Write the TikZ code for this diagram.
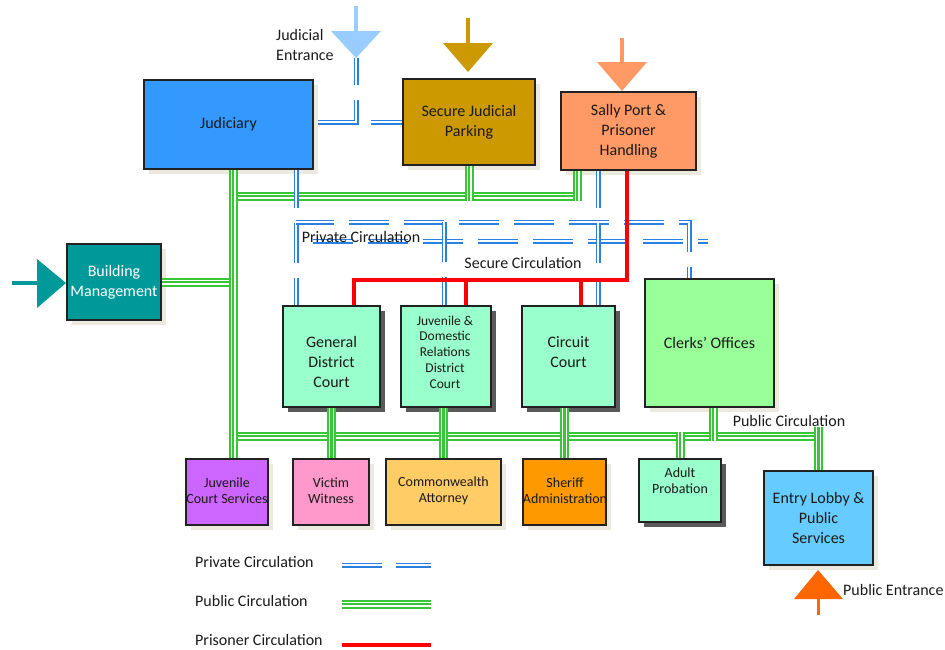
\documentclass[tikz,border=0pt]{standalone}
\usepackage{fontspec}
\setmainfont{Carlito}
\usetikzlibrary{shadows}

\definecolor{cJud}{HTML}{3399FF}
\definecolor{cPark}{HTML}{CC9900}
\definecolor{cSally}{HTML}{FF9966}
\definecolor{cBldg}{HTML}{009999}
\definecolor{cCourt}{HTML}{99FFCC}
\definecolor{cClerk}{HTML}{99FF99}
\definecolor{cJcs}{HTML}{CC66FF}
\definecolor{cVic}{HTML}{FF99CC}
\definecolor{cCom}{HTML}{FFCC66}
\definecolor{cShe}{HTML}{FF9900}
\definecolor{cLob}{HTML}{66CCFF}
\definecolor{cEnt}{HTML}{99CCFF}
\definecolor{cPubEnt}{HTML}{FF6600}
\definecolor{shadowbeige}{HTML}{ECE9DE}
\definecolor{shadowgray}{HTML}{5A5A5A}
\definecolor{boxline}{HTML}{222222}
\definecolor{textc}{HTML}{1A1A1A}
\definecolor{privblue}{HTML}{2A80E2}
\definecolor{pubgreen}{HTML}{36C636}
\definecolor{prisred}{HTML}{FF0000}

\begin{document}
\begin{tikzpicture}[x=1pt,y=-1pt,
  box/.style={draw=boxline, line width=1.3pt, inner sep=0pt},
  softshadow/.style={general shadow={fill=shadowbeige, shadow xshift=5pt, shadow yshift=-5pt}},
  darkshadow/.style={general shadow={fill=shadowgray, shadow xshift=5pt, shadow yshift=-5pt}},
  txt/.style={inner sep=0pt, align=center, text=textc, font=\fontsize{16}{20}\selectfont},
  small/.style={font=\fontsize{14}{16}\selectfont},
  tiny/.style={font=\fontsize{13.5}{15.7}\selectfont},
  lbl/.style={inner sep=0pt, text=textc, font=\fontsize{16}{20}\selectfont},
  privc/.style={draw=privblue, line width=5pt, #1, postaction={draw=white, line width=1.6pt, #1}},
  privc/.default={dash pattern=on 40pt off 15pt},
  pubc/.style={draw=pubgreen, line width=9pt, postaction={draw=white, line width=5pt}, postaction={draw=pubgreen, line width=2.2pt}},
  prisc/.style={draw=prisred, line width=4pt},
]
\useasboundingbox (0,0) rectangle (945,649);

% ---------- rooms ----------
\node[box, softshadow, fill=cJud,   minimum width=169, minimum height=89]  (jud)   at (228.5,124.5) {};
\node[box, softshadow, fill=cPark,  minimum width=132, minimum height=86]  (park)  at (469,122) {};
\node[box, softshadow, fill=cSally, minimum width=135, minimum height=78]  (sally) at (628.5,131) {};
\node[box, softshadow, fill=cBldg,  minimum width=94,  minimum height=76]  (bldg)  at (114,282) {};
\node[box, darkshadow, fill=cCourt, minimum width=97,  minimum height=101] (gdc)   at (331.5,356.5) {};
\node[box, darkshadow, fill=cCourt, minimum width=90,  minimum height=101] (jdr)   at (446,356.5) {};
\node[box, darkshadow, fill=cCourt, minimum width=93,  minimum height=101] (cir)   at (568.5,356.5) {};
\node[box, softshadow, fill=cClerk, minimum width=129, minimum height=128] (clk)   at (709.5,343) {};
\node[box, softshadow, fill=cJcs,   minimum width=82,  minimum height=66]  (jcs)   at (227,492) {};
\node[box, softshadow, fill=cVic,   minimum width=76,  minimum height=66]  (vic)   at (331,492) {};
\node[box, softshadow, fill=cCom,   minimum width=115, minimum height=66]  (com)   at (443.5,492) {};
\node[box, softshadow, fill=cShe,   minimum width=83,  minimum height=66]  (she)   at (564.5,492) {};
\node[box, darkshadow, fill=cCourt, minimum width=82,  minimum height=63]  (adp)   at (680,490.5) {};
\node[box, softshadow, fill=cLob,   minimum width=109, minimum height=94]  (lob)   at (818.5,518) {};

% ---------- entrances ----------
\coordinate (jeTip) at (356,58);
\draw[cEnt, line width=4pt] (356,6) -- (356,32);
\fill[cEnt] (331,31) -- (381,31) -- (jeTip) -- cycle;

\coordinate (paTip) at (468,72);
\draw[cPark, line width=4pt] (468,18) -- (468,44);
\fill[cPark] (443,43) -- (493,43) -- (paTip) -- cycle;

\coordinate (saTip) at (622,91);
\draw[cSally, line width=4pt] (622,38) -- (622,63);
\fill[cSally] (597,62) -- (647,62) -- (saTip) -- cycle;

\coordinate (bmTip) at (66,283);
\draw[cBldg, line width=4pt] (12,283) -- (38,283);
\fill[cBldg] (37,259) -- (37,308) -- (bmTip) -- cycle;

\coordinate (peTip) at (818,570);
\draw[cPubEnt, line width=3pt] (818,598) -- (818,615);
\fill[cPubEnt] (794,599) -- (843,599) -- (peTip) -- cycle;

% ---------- public circulation ----------
\coordinate (gT)  at (233,0);
\coordinate (uL)  at (228.5,196);
\coordinate (uR)  at (581.5,196);
\coordinate (uS)  at (577,200.5);
\coordinate (lL)  at (228.5,436);
\coordinate (lR)  at (823,436);
\coordinate (gK)  at (713,440.5);
\coordinate (gA)  at (680,431.5);
\coordinate (gE)  at (818.5,427);
\draw[pubc] (uL) -- (uR);
\draw[pubc] (bldg.east) -- ([xshift=4.5pt]bldg.east -| gT);
\draw[pubc] (lL) -- (lR);
\draw[pubc] (jud.south -| gT) -- (jcs.north -| gT);
\draw[pubc] (park.south) -- ([yshift=-4.5pt]park.south |- uL);
\draw[pubc] (sally.south -| uS) -- (uS);
\draw[pubc] (gdc.south) -- (gdc.south |- vic.north);
\draw[pubc] (jdr.south -| com.north) -- (com.north);
\draw[pubc] (cir.south -| she.north) -- (she.north);
\draw[pubc] (clk.south -| gK) -- (gK);
\draw[pubc] (gA) -- (adp.north);
\draw[pubc] (gE) -- (lob.north);

% ---------- private circulation ----------
\coordinate (pA) at (296,0);
\coordinate (pB) at (444,222);
\coordinate (pC) at (598,0);
\coordinate (pU1) at (296,222);
\coordinate (pU2) at (689,222);
\coordinate (pL1) at (313,241);
\coordinate (pL2) at (708,241);
\draw[privc={dash pattern=on 27pt off 15pt on 60pt off 30pt}]
  (jeTip) -- (jeTip |- park.west) -- (jud.east |- park.west);
\draw[privc={dash pattern=on 31pt off 30pt}] (park.west) -- (jeTip |- park.west);
\draw[privc={dash pattern=on 40pt off 15pt, dash phase=2pt}] (jud.south -| pA) -- (gdc.north -| pA);
\draw[privc={dash pattern=on 40pt off 15pt, dash phase=2pt}] (pU1) -- (pU2) -- (clk.north -| pU2);
\draw[privc] (pL1) -- (pL2);
\draw[privc] (pB) -- (jdr.north -| pB);
\draw[privc={dash pattern=on 40pt off 15pt, dash phase=3pt}] (sally.south -| pC) -- (cir.north -| pC);

% ---------- secure (prisoner) circulation ----------
\coordinate (sR) at (627,280);
\coordinate (sL) at (354,280);
\coordinate (sJ) at (466,280);
\coordinate (sC) at (581,280);
\draw[prisc] (sally.south -| sR) -- (sR) -- (sL) -- (gdc.north -| sL);
\draw[prisc] (sJ) -- (jdr.north -| sJ);
\draw[prisc] (sC) -- (cir.north -| sC);

% ---------- room names ----------
\node[txt] (judT)   at (jud)   {Judiciary};
\node[txt] (parkT)  at (park)  {Secure Judicial\\Parking};
\node[txt] (sallyT) at (sally) {Sally Port \&\\Prisoner\\Handling};
\node[txt, text=white] (bldgT) at (bldg) {Building\\Management};
\node[txt] (gdcT)   at (331.5,362) {General\\District\\Court};
\node[txt, tiny] (jdrT) at (445,352) {Juvenile \&\\Domestic\\Relations\\District\\Court};
\node[txt] (cirT)   at (568.5,352) {Circuit\\Court};
\node[txt] (clkT)   at (clk)   {Clerks’ Offices};
\node[txt, small] (jcsT) at (227,491) {Juvenile\\Court Services};
\node[txt, small] (vicT) at (331,491) {Victim\\Witness};
\node[txt, small] (comT) at (443.5,491) {Commonwealth\\Attorney};
\node[txt, small] (sheT) at (565,491) {Sheriff\\Administration};
\node[txt, small] (adpT) at (680,481) {Adult\\Probation};
\node[txt] (lobT)   at (818.5,518) {Entry Lobby \&\\Public\\Services};

% ---------- circulation labels ----------
\node[lbl, anchor=west, align=left] (jeLbl) at (276,45) {Judicial\\Entrance};
\node[lbl] (privLbl) at (361,237) {Private Circulation};
\node[lbl] (secLbl)  at (523,263) {Secure Circulation};
\node[lbl] (pubLbl)  at (789,421) {Public Circulation};
\node[lbl, anchor=west] (peLbl) at (843,590) {Public Entrance};

% ---------- legend ----------
\node[lbl, anchor=west] (lgPriv) at (195,562) {Private Circulation};
\node[lbl, anchor=west] (lgPub)  at (195,601) {Public Circulation};
\node[lbl, anchor=west] (lgPris) at (195,640) {Prisoner Circulation};
\coordinate (lgPrivA) at (342,565); \coordinate (lgPrivB) at (431,565);
\coordinate (lgPubA)  at (342,604); \coordinate (lgPubB)  at (431,604);
\coordinate (lgPrisA) at (342,645); \coordinate (lgPrisB) at (431,645);
\draw[privc={dash pattern=on 40pt off 14pt}] (lgPrivA) -- (lgPrivB);
\draw[pubc] (lgPubA) -- (lgPubB);
\draw[prisc] (lgPrisA) -- (lgPrisB);
\end{tikzpicture}
\end{document}
